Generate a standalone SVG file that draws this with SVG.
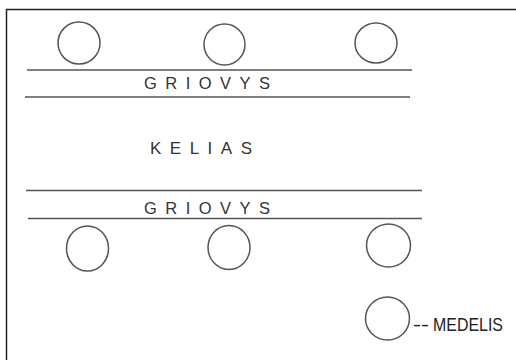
<svg xmlns="http://www.w3.org/2000/svg" width="516" height="360" viewBox="0 0 516 360">
<style>
.t{font-family:"Liberation Sans",Arial,sans-serif;fill:#333}
.c{fill:none;stroke:#555;stroke-width:1.5}
.l{stroke:#555;stroke-width:1.5}
</style>
<rect width="516" height="360" fill="#fff"/>
<g id="frame"><path d="M6.5,360 V9.5 H516" fill="none" stroke="#222" stroke-width="1.5"/></g>
<g id="trees-top">
<ellipse class="c" cx="79" cy="43" rx="21" ry="21"/>
<ellipse class="c" cx="224.5" cy="44.5" rx="20.5" ry="20.5"/>
<ellipse class="c" cx="376" cy="43" rx="21" ry="20"/>
</g>
<g id="ditch-top">
<line class="l" x1="27" y1="70" x2="412" y2="70"/>
<line class="l" x1="25" y1="97" x2="410" y2="97"/>
<text class="t" x="144" y="89.3" font-size="16.5" textLength="126" lengthAdjust="spacing">GRIOVYS</text>
</g>
<g id="road">
<text class="t" x="150" y="154" font-size="17" textLength="102" lengthAdjust="spacing">KELIAS</text>
</g>
<g id="ditch-bottom">
<line class="l" x1="26" y1="190.5" x2="422" y2="190.5"/>
<line class="l" x1="28" y1="218.5" x2="422" y2="218.5"/>
<text class="t" x="144" y="213.5" font-size="16.5" textLength="126" lengthAdjust="spacing">GRIOVYS</text>
</g>
<g id="trees-bottom">
<ellipse class="c" cx="87.5" cy="248.5" rx="21" ry="22.5"/>
<ellipse class="c" cx="229" cy="247.5" rx="21" ry="22"/>
<ellipse class="c" cx="388.5" cy="245.5" rx="22" ry="21.5"/>
</g>
<g id="legend">
<ellipse class="c" cx="387.5" cy="318.5" rx="22" ry="21.5"/>
<text class="t" y="331" font-size="17.5" style="fill:#222"><tspan x="413" textLength="16" lengthAdjust="spacingAndGlyphs">--</tspan><tspan x="433" textLength="70" lengthAdjust="spacingAndGlyphs">MEDELIS</tspan></text>
</g>
</svg>
